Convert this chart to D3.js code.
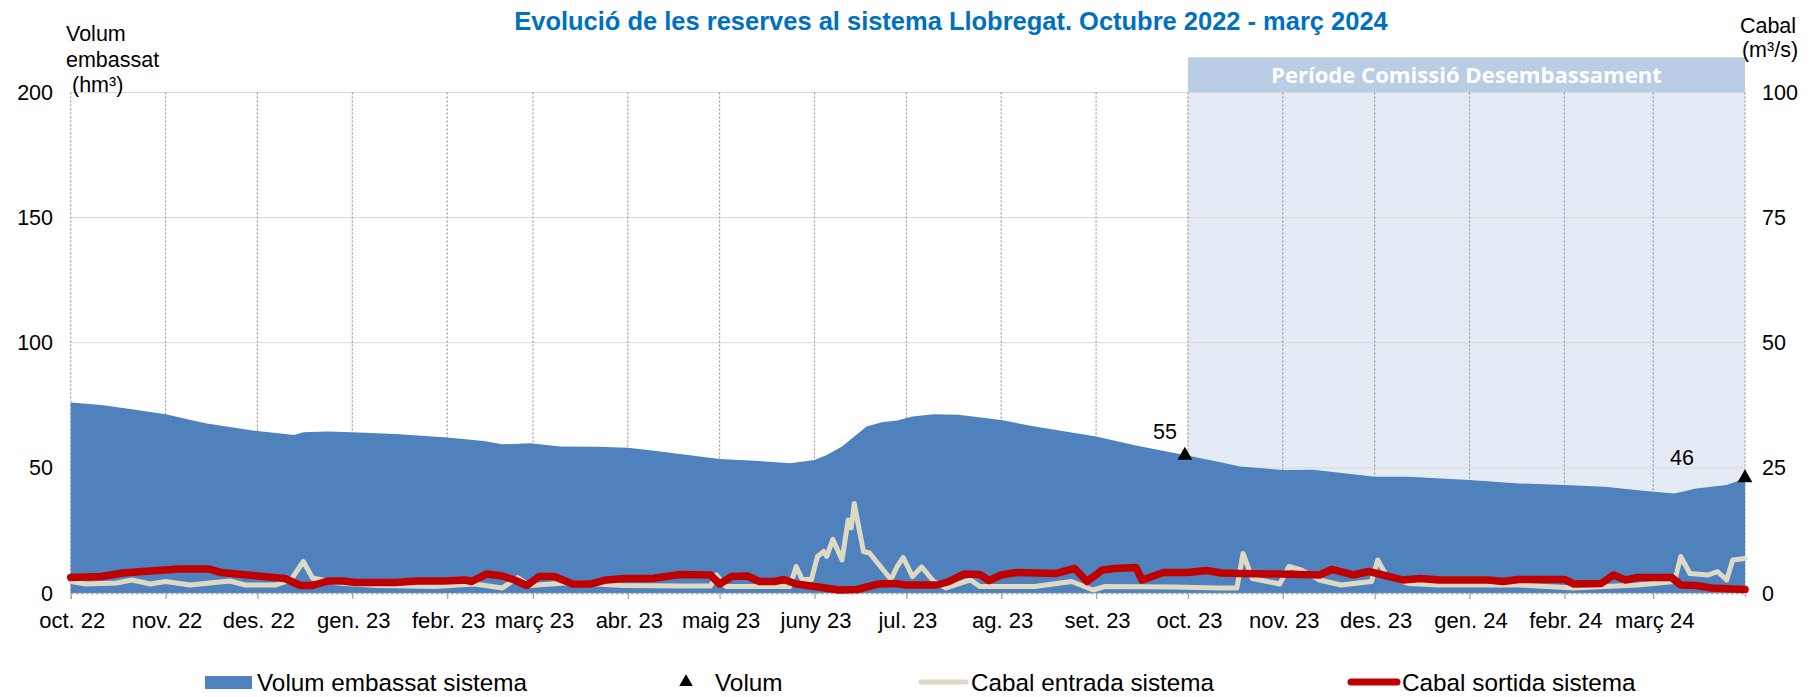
<!DOCTYPE html>
<html><head><meta charset="utf-8">
<script src="https://cdn.jsdelivr.net/npm/d3@7"></script>
<style>
html,body{margin:0;padding:0;background:#fff;}
svg{display:block;font-family:"Liberation Sans",Arial,sans-serif;}
</style></head><body>
<svg id="chart" width="1818" height="697"></svg>
<script>
// ---------- DATA ----------
const volumDates = ["2022-10-01","2022-10-11","2022-10-21","2022-11-01","2022-11-14","2022-12-01","2022-12-13","2022-12-16","2022-12-24","2023-01-01","2023-01-15","2023-02-01","2023-02-13","2023-02-19","2023-02-28","2023-03-10","2023-03-22","2023-04-01","2023-04-09","2023-05-01","2023-05-14","2023-05-24","2023-06-01","2023-06-05","2023-06-10","2023-06-14","2023-06-18","2023-06-23","2023-06-28","2023-07-03","2023-07-10","2023-07-18","2023-08-01","2023-08-12","2023-09-01","2023-09-14","2023-09-30","2023-10-12","2023-10-18","2023-11-01","2023-11-11","2023-12-01","2023-12-12","2024-01-01","2024-01-17","2024-02-01","2024-02-14","2024-03-01","2024-03-08","2024-03-15","2024-03-25","2024-03-31"];
const volumValues = [76.1,75.1,73.4,71.4,67.8,64.7,63.1,64.2,64.5,64.2,63.5,62.1,60.7,59.4,59.8,58.5,58.4,58.0,56.9,53.5,52.7,51.8,53.1,55.1,58.5,62.5,66.5,68.2,68.9,70.5,71.4,71.2,69.1,66.5,62.5,58.9,55.1,52.1,50.5,49.2,49.3,46.5,46.5,45.2,43.8,43.2,42.5,40.5,39.8,41.8,43.2,45.8];

const sortidaDates = ["2022-10-01","2022-10-11","2022-10-18","2022-10-27","2022-11-01","2022-11-05","2022-11-15","2022-11-19","2022-11-26","2022-12-01","2022-12-10","2022-12-15","2022-12-19","2022-12-24","2022-12-29","2023-01-02","2023-01-15","2023-01-22","2023-01-31","2023-02-07","2023-02-09","2023-02-14","2023-02-19","2023-02-23","2023-02-27","2023-03-03","2023-03-08","2023-03-14","2023-03-20","2023-03-25","2023-03-31","2023-04-09","2023-04-18","2023-04-28","2023-05-01","2023-05-05","2023-05-10","2023-05-14","2023-05-19","2023-05-22","2023-05-26","2023-06-01","2023-06-09","2023-06-15","2023-06-22","2023-06-27","2023-07-01","2023-07-11","2023-07-15","2023-07-20","2023-07-25","2023-07-28","2023-08-01","2023-08-06","2023-08-19","2023-08-25","2023-08-29","2023-09-03","2023-09-07","2023-09-14","2023-09-16","2023-09-23","2023-10-01","2023-10-07","2023-10-12","2023-10-18","2023-10-31","2023-11-13","2023-11-17","2023-11-24","2023-11-29","2023-12-05","2023-12-10","2023-12-16","2023-12-22","2024-01-07","2024-01-12","2024-01-17","2024-02-01","2024-02-04","2024-02-13","2024-02-17","2024-02-21","2024-02-25","2024-03-07","2024-03-10","2024-03-15","2024-03-20","2024-03-31"];
const sortidaValues = [3.1,3.3,4.0,4.4,4.6,4.8,4.8,4.1,3.7,3.4,2.9,1.5,1.5,2.4,2.4,2.1,2.1,2.4,2.4,2.6,2.3,3.8,3.4,2.6,1.5,3.3,3.3,1.8,1.8,2.6,2.9,2.9,3.7,3.6,1.8,3.3,3.4,2.3,2.3,2.7,1.8,1.3,0.6,0.7,1.8,1.9,1.6,1.6,2.3,3.8,3.7,2.5,3.6,4.1,3.9,4.9,2.3,4.6,4.9,5.1,2.6,4.1,4.1,4.5,4.0,3.9,3.8,3.6,4.7,3.6,4.3,3.4,2.6,2.9,2.6,2.6,2.3,2.7,2.7,1.8,1.9,3.6,2.6,3.1,3.1,1.6,1.5,1.0,0.7];

const entradaDates = ["2022-10-01","2022-10-06","2022-10-16","2022-10-21","2022-10-27","2022-11-01","2022-11-09","2022-11-22","2022-11-27","2022-12-07","2022-12-12","2022-12-16","2022-12-19","2022-12-27","2023-01-09","2023-01-28","2023-02-10","2023-02-19","2023-02-24","2023-02-28","2023-03-14","2023-03-30","2023-04-19","2023-04-28","2023-04-30","2023-05-03","2023-05-24","2023-05-26","2023-05-28","2023-05-31","2023-06-02","2023-06-04","2023-06-05","2023-06-07","2023-06-10","2023-06-12","2023-06-13","2023-06-14","2023-06-15","2023-06-17","2023-06-19","2023-06-22","2023-06-26","2023-06-28","2023-06-30","2023-07-03","2023-07-06","2023-07-10","2023-07-14","2023-07-22","2023-07-25","2023-08-12","2023-08-24","2023-08-31","2023-09-04","2023-09-26","2023-10-11","2023-10-17","2023-10-19","2023-10-22","2023-10-31","2023-11-03","2023-11-07","2023-11-13","2023-11-20","2023-11-30","2023-12-02","2023-12-05","2023-12-12","2023-12-22","2024-01-17","2024-02-04","2024-02-25","2024-03-08","2024-03-10","2024-03-13","2024-03-19","2024-03-22","2024-03-25","2024-03-27","2024-03-31"];
const entradaValues = [2.3,1.8,2.0,2.6,1.8,2.3,1.6,2.4,1.6,1.6,2.6,6.3,3.0,2.0,1.5,1.3,1.8,1.0,3.1,1.5,2.1,1.5,1.4,1.4,3.6,1.3,1.3,5.3,2.7,2.7,7.3,8.3,7.3,10.7,6.6,14.6,13.0,17.9,14.6,8.3,8.0,5.7,2.7,5.3,7.1,3.3,5.2,2.3,1.0,2.6,1.3,1.3,2.3,0.6,1.3,1.2,1.0,1.0,7.9,2.9,1.8,5.3,4.6,2.6,1.6,2.3,6.6,3.3,1.9,1.6,1.6,1.0,1.6,2.3,7.3,3.9,3.6,4.3,2.6,6.6,6.9];

const markerDates = ["2023-09-30","2024-03-31"];
const markerValues = [55, 46];

const monthTicks = ["2022-10-01","2022-11-01","2022-12-01","2023-01-01","2023-02-01","2023-03-01","2023-04-01","2023-05-01","2023-06-01","2023-07-01","2023-08-01","2023-09-01","2023-10-01","2023-11-01","2023-12-01","2024-01-01","2024-02-01","2024-03-01"];
const monthLabels = ["oct. 22","nov. 22","des. 22","gen. 23","febr. 23","març 23","abr. 23","maig 23","juny 23","jul. 23","ag. 23","set. 23","oct. 23","nov. 23","des. 23","gen. 24","febr. 24","març 24"];
const leftTicks = [0, 50, 100, 150, 200];
const rightTicks = [0, 25, 50, 75, 100];
const periodStart = "2023-10-01";
const domainEnd = "2024-03-31";

const titleText = "Evolució de les reserves al sistema Llobregat. Octubre 2022 - març 2024";
const periodText = "Període Comissió Desembassament";
const legendItems = ["Volum embassat sistema", "Volum", "Cabal entrada sistema", "Cabal sortida sistema"];

// ---------- LAYOUT ----------
const parse = d3.utcParse("%Y-%m-%d");
const L = 70.7, R = 1745, T = 92.5, B = 593;
const svg = d3.select("#chart");

const x = d3.scaleUtc().domain([parse(monthTicks[0]), parse(domainEnd)]).range([L, R]);
const yL = d3.scaleLinear().domain([0, 200]).range([B, T]);
const yR = d3.scaleLinear().domain([0, 100]).range([B, T]);

const COL_AREA = "#4F81BD", COL_IN = "#DDD9C3", COL_OUT = "#C00000";

// shaded period
const xp = x(parse(periodStart));
svg.append("rect").attr("x", xp).attr("y", T).attr("width", R - xp).attr("height", B - T).attr("fill", "#E5EBF5");
svg.append("rect").attr("x", xp).attr("y", 57.3).attr("width", R - xp).attr("height", T - 57.3).attr("fill", "#B9CDE5");
const pt = svg.append("text").attr("x", (xp + R) / 2).attr("y", 82.5).attr("text-anchor", "middle")
  .attr("fill", "#fff").attr("font-family", "'Open Sans', 'Noto Sans', sans-serif").attr("font-weight", 700)
  .attr("font-size", 21).text(periodText);
const ptw = pt.node().getComputedTextLength();
pt.attr("font-size", 21 * 391 / ptw);

// horizontal gridlines
svg.append("g").selectAll("line").data(leftTicks.filter(d => d > 0)).join("line")
  .attr("x1", L).attr("x2", R).attr("y1", d => yL(d)).attr("y2", d => yL(d))
  .attr("stroke", "#D9D9D9").attr("stroke-width", 1);

// vertical dotted gridlines
const vgrid = monthTicks.map(parse).concat([parse(domainEnd)]);
svg.append("g").selectAll("line").data(vgrid).join("line")
  .attr("x1", d => x(d)).attr("x2", d => x(d)).attr("y1", T).attr("y2", B)
  .attr("stroke", "#9A9A9A").attr("stroke-width", 1.2).attr("stroke-dasharray", "2,2");

// area
const volData = volumDates.map((d, i) => ({ d: parse(d), v: volumValues[i] }));
svg.append("path").datum(volData)
  .attr("d", d3.area().x(p => x(p.d)).y0(yL(0)).y1(p => yL(p.v)))
  .attr("fill", COL_AREA);

// bottom axis
const xAxis = d3.axisBottom(x).tickValues(monthTicks.map(parse)).tickSize(6).tickFormat("");
const gx = svg.append("g").attr("transform", `translate(0,${B})`).call(xAxis);
gx.select(".domain").attr("stroke", "#A6A6A6").attr("stroke-width", 1.5).attr("stroke-dasharray", "3,2");
gx.selectAll(".tick line").attr("stroke", "#A6A6A6").attr("stroke-width", 1.3);
svg.append("g").selectAll("text").data(monthTicks).join("text")
  .attr("x", d => x(parse(d)) + 1.5).attr("y", 628).attr("text-anchor", "middle")
  .attr("font-size", 22).attr("fill", "#000").text((d, i) => monthLabels[i]);

// lines
const inData = entradaDates.map((d, i) => ({ d: parse(d), v: entradaValues[i] }));
const outData = sortidaDates.map((d, i) => ({ d: parse(d), v: sortidaValues[i] }));
const lineR = d3.line().x(p => x(p.d)).y(p => yR(p.v));
svg.append("path").datum(inData).attr("d", lineR).attr("fill", "none")
  .attr("stroke", COL_IN).attr("stroke-width", 5).attr("stroke-linejoin", "round").attr("stroke-linecap", "round");
svg.append("path").datum(outData).attr("d", lineR).attr("fill", "none")
  .attr("stroke", COL_OUT).attr("stroke-width", 7.5).attr("stroke-linejoin", "round").attr("stroke-linecap", "round");

// markers
const tri = d3.symbol().type(d3.symbolTriangle).size(95);
const mk = svg.append("g");
markerDates.forEach((d, i) => {
  const mx = x(parse(d)), my = yL(markerValues[i]);
  mk.append("path").attr("d", tri()).attr("transform", `translate(${mx},${my})`).attr("fill", "#000");
});
const labelDx = [-8, -51];
const labelDy = [-16, -13];
markerDates.forEach((d, i) => {
  const mx = x(parse(d)), my = yL(markerValues[i]);
  mk.append("text").attr("x", mx + labelDx[i]).attr("y", my + labelDy[i]).attr("text-anchor", "end")
    .attr("font-size", 21.5).attr("fill", "#000").text(markerValues[i]);
});

// y tick labels
svg.append("g").selectAll("text").data(leftTicks).join("text")
  .attr("x", 53).attr("y", d => yL(d) + 7.5).attr("text-anchor", "end")
  .attr("font-size", 21.5).attr("fill", "#000").text(d => d);
svg.append("g").selectAll("text").data(rightTicks).join("text")
  .attr("x", 1762).attr("y", d => yR(d) + 7.5).attr("text-anchor", "start")
  .attr("font-size", 21.5).attr("fill", "#000").text(d => d);

// axis titles
const lt = svg.append("text").attr("font-size", 21.5).attr("fill", "#000");
lt.append("tspan").attr("x", 66).attr("y", 41).text("Volum");
lt.append("tspan").attr("x", 66).attr("y", 66.5).text("embassat");
lt.append("tspan").attr("x", 72).attr("y", 92).text("(hm³)");
const rt = svg.append("text").attr("font-size", 21.5).attr("fill", "#000").attr("text-anchor", "middle");
rt.append("tspan").attr("x", 1768).attr("y", 33).text("Cabal");
rt.append("tspan").attr("x", 1770).attr("y", 57).text("(m³/s)");

// title
const tt = svg.append("text").attr("x", 951).attr("y", 30).attr("text-anchor", "middle")
  .attr("font-size", 21).attr("font-weight", 700).attr("fill", "#0070C0").text(titleText);
const ttw = tt.node().getComputedTextLength();
tt.attr("font-size", 21 * 874 / ttw);

// legend
const lg = svg.append("g").attr("font-size", 24.3).attr("fill", "#000");
const ly = 682;
lg.append("rect").attr("x", 205).attr("y", 676).attr("width", 47).attr("height", 13).attr("fill", COL_AREA);
lg.append("text").attr("x", 257).attr("y", ly + 8.5).text(legendItems[0]);
lg.append("path").attr("d", d3.symbol().type(d3.symbolTriangle).size(80)()).attr("transform", `translate(686,${ly})`).attr("fill", "#000");
lg.append("text").attr("x", 715).attr("y", ly + 8.5).text(legendItems[1]);
lg.append("line").attr("x1", 921).attr("x2", 966).attr("y1", ly).attr("y2", ly)
  .attr("stroke", COL_IN).attr("stroke-width", 5).attr("stroke-linecap", "round");
lg.append("text").attr("x", 971).attr("y", ly + 8.5).text(legendItems[2]);
lg.append("line").attr("x1", 1351).attr("x2", 1397).attr("y1", ly).attr("y2", ly)
  .attr("stroke", COL_OUT).attr("stroke-width", 7).attr("stroke-linecap", "round");
lg.append("text").attr("x", 1402).attr("y", ly + 8.5).text(legendItems[3]);
</script>
</body></html>
